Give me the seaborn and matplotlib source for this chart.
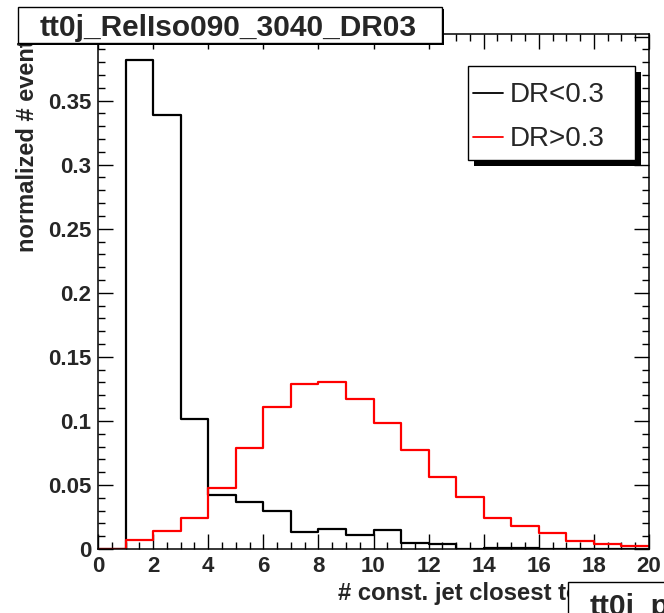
import numpy as np
import pandas as pd
import matplotlib
matplotlib.use("Agg")
import matplotlib.pyplot as plt
from matplotlib.patches import Rectangle
from matplotlib.lines import Line2D
from matplotlib.ticker import MultipleLocator, FuncFormatter
import seaborn as sns

# ---------------- data ----------------
bin_lefts = list(range(20))
dr_lt = [0.0, 0.382, 0.339, 0.1016, 0.0422, 0.0370, 0.0297, 0.0133, 0.0159, 0.0112,
         0.0146, 0.0049, 0.0039, 0.0, 0.0006, 0.0006, 0.0, 0.0, 0.0, 0.0]
dr_gt = [0.0, 0.007, 0.014, 0.024, 0.0474, 0.0787, 0.111, 0.129, 0.130, 0.117,
         0.098, 0.077, 0.056, 0.0406, 0.024, 0.018, 0.0123, 0.0065, 0.0042, 0.0021]
series_labels = ["DR<0.3", "DR>0.3"]
series_colors = ["black", "#ff0000"]
x_ticks = [0, 2, 4, 6, 8, 10, 12, 14, 16, 18, 20]
y_ticks = [0, 0.05, 0.1, 0.15, 0.2, 0.25, 0.3, 0.35, 0.4]
title_text = "tt0j_RelIso090_3040_DR03"
next_title_text = "tt0j_pt"
x_title = "# const. jet closest to muon"
y_title = "normalized # events"

# ---------------- style ----------------
sns.set_style("ticks")
plt.rcParams["font.family"] = ["Liberation Sans", "DejaVu Sans"]
plt.rcParams["font.weight"] = "bold"

W, H, DPI = 664, 613, 100
fig = plt.figure(figsize=(W / DPI, H / DPI), dpi=DPI)
fig.patch.set_facecolor("white")


def fx(px):
    return px / W


def fy(py):
    return 1 - py / H


ax_l, ax_r, ax_t, ax_b = 98, 649, 34, 549
ax = fig.add_axes([fx(ax_l), fy(ax_b), (ax_r - ax_l) / W, (ax_b - ax_t) / H])
ax.set_facecolor("white")

df = pd.DataFrame({
    "x": [b + 0.5 for b in bin_lefts] * 2,
    "w": dr_lt + dr_gt,
    "series": [series_labels[0]] * len(bin_lefts) + [series_labels[1]] * len(bin_lefts),
})
for lab, col in zip(series_labels, series_colors):
    sub = df[df["series"] == lab]
    sns.histplot(data=sub, x="x", weights="w", bins=20, binrange=(0, 20), element="step",
                 fill=False, color=col, linewidth=1.6, ax=ax)

ax.set_xlim(0, 20)
ax.set_ylim(0, 0.402)
ax.set_xlabel("")
ax.set_ylabel("")
ax.set_xticks(x_ticks)
ax.xaxis.set_minor_locator(MultipleLocator(0.5))
ax.set_yticks(y_ticks)
ax.yaxis.set_minor_locator(MultipleLocator(0.01))
ax.yaxis.set_major_formatter(FuncFormatter(lambda v, p: "%g" % round(v, 3)))
ax.tick_params(which="both", direction="in", top=True, right=True, width=1.0, color="black")
ax.tick_params(which="major", length=15 / 1.389)
ax.tick_params(which="minor", length=7 / 1.389)
ax.tick_params(axis="y", which="major", labelsize=16, pad=5)
ax.tick_params(axis="x", which="major", labelsize=16, pad=5)
for sp in ax.spines.values():
    sp.set_linewidth(1.1)
    sp.set_color("black")
    sp.set_visible(True)

# axis titles
fig.text(fx(28), fy(252), y_title, rotation=90, ha="center", va="bottom",
         fontsize=17, fontweight="bold", zorder=1)
fig.text(fx(338), fy(600), x_title, ha="left", va="baseline",
         fontsize=17.2, fontweight="bold", zorder=1)


def box(x0, y0, x1, y1, shadow, z):
    fig.add_artist(Rectangle((fx(x0 + shadow), fy(y1 + shadow)), (x1 - x0) / W, (y1 - y0) / H,
                             transform=fig.transFigure, facecolor="black", edgecolor="black",
                             linewidth=0, zorder=z))
    fig.add_artist(Rectangle((fx(x0), fy(y1)), (x1 - x0) / W, (y1 - y0) / H,
                             transform=fig.transFigure, facecolor="white", edgecolor="black",
                             linewidth=1.0, zorder=z + 0.1))


# title box
box(18, 7, 442, 43, 2, 10)
fig.text(fx(228), fy(36), title_text, ha="center", va="baseline", fontsize=21.5,
         fontweight="bold", zorder=11)

# next pad title box (cut at bottom right)
box(568, 582, 992, 618, 2, 10)
fig.text(fx(590), fy(615), next_title_text, ha="left", va="baseline", fontsize=21.5,
         fontweight="bold", zorder=11)

# legend
box(468, 66, 635, 160, 6, 10)
for i, (lab, col) in enumerate(zip(series_labels, series_colors)):
    yy = 93 + i * 44
    fig.add_artist(Line2D([fx(473), fx(503)], [fy(yy), fy(yy)], transform=fig.transFigure,
                          color=col, linewidth=1.3, zorder=11))
    fig.text(fx(510), fy(yy + 9), lab, ha="left", va="baseline", fontsize=20,
             fontweight="normal", zorder=11)

fig.savefig("out.png", dpi=DPI)
